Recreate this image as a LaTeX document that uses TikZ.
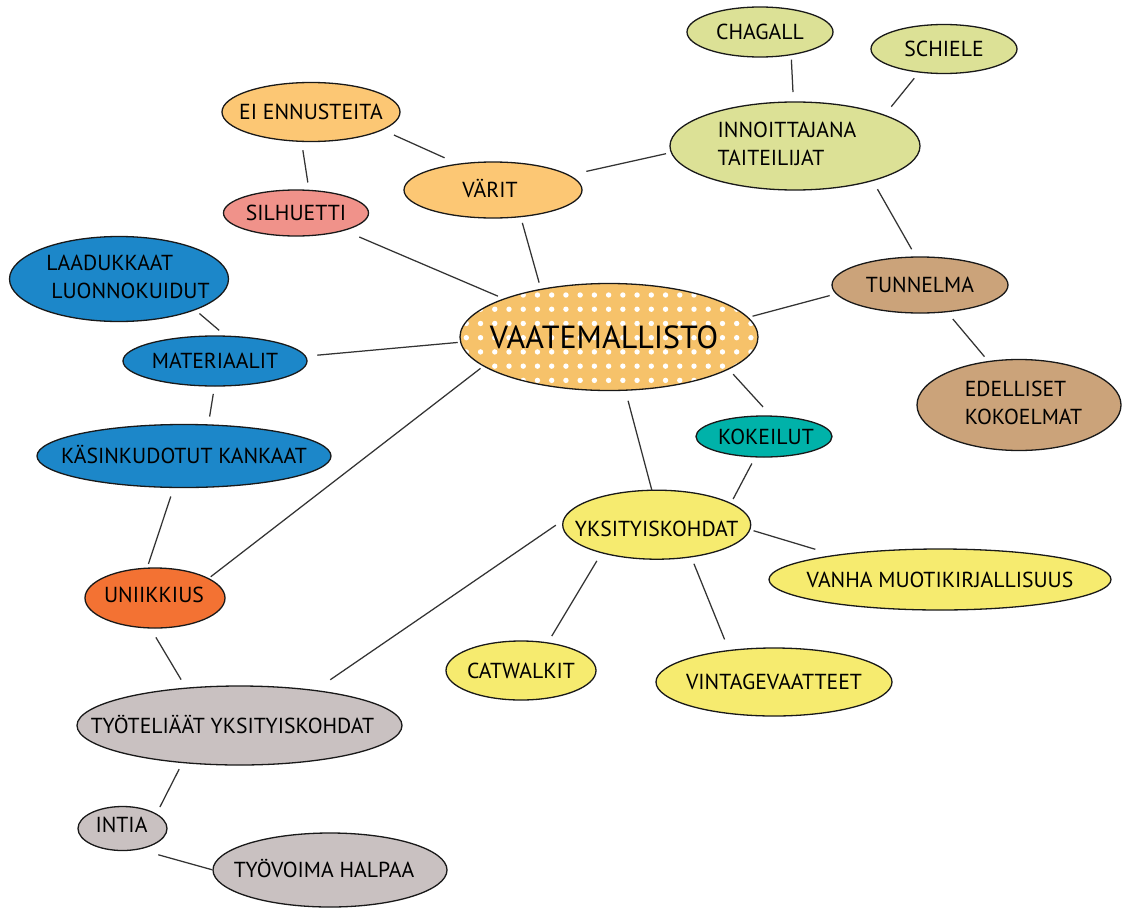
\documentclass[tikz,border=0pt]{standalone}
\usepackage{fontspec}
\setmainfont{PT Sans}
\usetikzlibrary{shapes.geometric,calc}
\definecolor{cgreen}{HTML}{DCE196}
\definecolor{corange}{HTML}{FCC774}
\definecolor{csalmon}{HTML}{F0928A}
\definecolor{cblue}{HTML}{1C87C9}
\definecolor{ctan}{HTML}{CBA37A}
\definecolor{cteal}{HTML}{00B2A9}
\definecolor{cyellow}{HTML}{F6EB6F}
\definecolor{cred}{HTML}{F37233}
\definecolor{cgray}{HTML}{C9C1C1}
\definecolor{cvaate}{HTML}{F6C26A}
\newcommand\tx[3]{\makebox[0pt]{\hspace*{#1}\hspace*{#1}\raisebox{#2}[15.2pt][0pt]{#3}}}
\newcommand\ttx[2]{\makebox[0pt]{\hspace*{#1}\hspace*{#1}\begin{tabular}{@{}l@{}}#2\end{tabular}}}
\tikzset{
  el/.style={ellipse, draw=black!90, line width=1.3pt, inner sep=0pt, outer sep=0pt,
    font=\fontsize{21.7}{28}\selectfont},
  con/.style={draw=black!80, line width=1.25pt},
}
\begin{document}
\begin{tikzpicture}[x=1pt,y=-1pt]
\path[use as bounding box, fill=white] (0,0) rectangle (1123,907);

% nodes
\node[el, fill=cgreen, minimum width=146pt, minimum height=50pt] (chagall) at (760,32) {\tx{0pt}{0pt}{CHAGALL}};
\node[el, fill=cgreen, minimum width=146pt, minimum height=49pt] (schiele) at (944,49) {\tx{0pt}{0pt}{SCHIELE}};
\node[el, fill=cgreen, minimum width=250pt, minimum height=88pt] (innoi) at (795,146) {\ttx{-8pt}{INNOITTAJANA\\TAITEILIJAT}};
\node[el, fill=corange, minimum width=178pt, minimum height=59pt] (ei) at (311,112) {\tx{0pt}{0pt}{EI ENNUSTEITA}};
\node[el, fill=corange, minimum width=178pt, minimum height=56pt] (varit) at (493,190) {\tx{-3pt}{0pt}{VÄRIT}};
\node[el, fill=csalmon, minimum width=145pt, minimum height=46pt] (silh) at (296,213) {\tx{0pt}{0pt}{SILHUETTI}};
\node[el, fill=cblue, minimum width=219pt, minimum height=85pt] (laad) at (119,279) {\ttx{9pt}{LAADUKKAAT\\\hspace*{5pt}LUONNOKUIDUT}};
\node[el, fill=cblue, minimum width=184pt, minimum height=50pt] (mat) at (215,361) {\tx{0pt}{0pt}{MATERIAALIT}};
\node[el, fill=cblue, minimum width=294pt, minimum height=63pt] (kas) at (184,456) {\tx{0pt}{0pt}{KÄSINKUDOTUT KANKAAT}};
\node[el, fill=cvaate, minimum width=298pt, minimum height=107pt,
  font=\fontsize{32}{36}\selectfont,
  path picture={\foreach \i in {-4,...,17}{\foreach \j in {-1,...,7}{
    \fill[white] ($(path picture bounding box.center)+(-100+14.23*\i,-42+14.23*\j)$) circle[radius=2.7];}}}]
  (vaate) at (609,337) {\makebox[0pt]{\hspace*{-10pt}VAATEMALLISTO}};
\node[el, fill=ctan, minimum width=176pt, minimum height=56pt] (tunn) at (920,285) {\tx{0pt}{0pt}{TUNNELMA}};
\node[el, fill=ctan, minimum width=204pt, minimum height=91pt] (edel) at (1019,405) {\ttx{4.5pt}{EDELLISET\\KOKOELMAT}};
\node[el, fill=cteal, minimum width=136pt, minimum height=41pt] (kok) at (764,436.5) {\tx{2pt}{0pt}{KOKEILUT}};
\node[el, fill=cyellow, minimum width=188pt, minimum height=69pt] (yks) at (656.7,524.7) {\tx{0pt}{-4pt}{YKSITYISKOHDAT}};
\node[el, fill=cyellow, minimum width=342pt, minimum height=61pt] (vanha) at (940,579.5) {\tx{0pt}{0pt}{VANHA MUOTIKIRJALLISUUS}};
\node[el, fill=cred, minimum width=140pt, minimum height=60pt] (uni) at (155,598) {\tx{-1pt}{3pt}{UNIIKKIUS}};
\node[el, fill=cyellow, minimum width=150pt, minimum height=59pt] (cat) at (521,670.5) {\tx{0pt}{0pt}{CATWALKIT}};
\node[el, fill=cyellow, minimum width=236pt, minimum height=68pt] (vint) at (774,682) {\tx{0pt}{0pt}{VINTAGEVAATTEET}};
\node[el, fill=cgray, minimum width=325pt, minimum height=79pt] (tyot) at (239.5,725.5) {\tx{-7pt}{0pt}{TYÖTELIÄÄT YKSITYISKOHDAT}};
\node[el, fill=cgray, minimum width=89pt, minimum height=44pt] (intia) at (122.5,828.5) {\tx{-1pt}{4pt}{INTIA}};
\node[el, fill=cgray, minimum width=234pt, minimum height=74pt] (tyov) at (330,870) {\tx{-6pt}{0pt}{TYÖVOIMA HALPAA}};

% connectors
\draw[con, shorten <=5pt, shorten >=10pt] (chagall.-36) -- (innoi.92);
\draw[con, shorten <=8pt, shorten >=11pt] (schiele.-137) -- (innoi.19);
\draw[con, shorten <=5.5pt, shorten >=18pt] (innoi.183) -- (varit.11);
\draw[con, shorten <=13pt, shorten >=15.5pt] (ei.-14) -- (varit.143);
\draw[con, shorten <=9pt, shorten >=8pt] (ei.-108) -- (silh.60);
\draw[con, shorten <=6.5pt, shorten >=7pt] (varit.-44) -- (vaate.145);
\draw[con, shorten <=17pt, shorten >=7pt] (silh.-20) -- (vaate.160);
\draw[con, shorten <=10pt, shorten >=9pt] (innoi.-24) -- (tunn.98);
\draw[con, shorten <=7pt, shorten >=5pt] (tunn.186) -- (vaate.8);
\draw[con, shorten <=9.5pt, shorten >=6.5pt] (tunn.-45) -- (edel.125);
\draw[con, shorten <=6pt, shorten >=9pt] (laad.-22) -- (mat.66);
\draw[con, shorten <=12pt, shorten >=3pt] (mat.3) -- (vaate.182);
\draw[con, shorten <=8pt, shorten >=8.5pt] (mat.-91) -- (kas.52);
\draw[con, shorten <=9.5pt, shorten >=4.5pt] (kas.-108) -- (uni.105);
\draw[con, shorten <=3pt, shorten >=4pt] (uni.20) -- (vaate.193);
\draw[con, shorten <=7pt, shorten >=12.5pt] (vaate.-15) -- (kok.70);
\draw[con, shorten <=11pt, shorten >=0pt] (vaate.-73) -- (yks.98);
\draw[con, shorten <=7.5pt, shorten >=5pt] (kok.-113) -- (yks.16);
\draw[con, shorten <=4pt, shorten >=21pt] (yks.-3) -- (vanha.167);
\draw[con, shorten <=9.5pt, shorten >=8pt] (yks.207) -- (cat.46);
\draw[con, shorten <=7.5pt, shorten >=12pt] (yks.-43) -- (vint.145);
\draw[con, shorten <=9.5pt, shorten >=19pt] (yks.177) -- (tyot.25);
\draw[con, shorten <=11pt, shorten >=10pt] (uni.-99) -- (tyot.145);
\draw[con, shorten <=7.5pt, shorten >=8pt] (tyot.213) -- (intia.23);
\draw[con, shorten <=21pt, shorten >=1pt] (intia.-53) -- (tyov.180);
\end{tikzpicture}
\end{document}
